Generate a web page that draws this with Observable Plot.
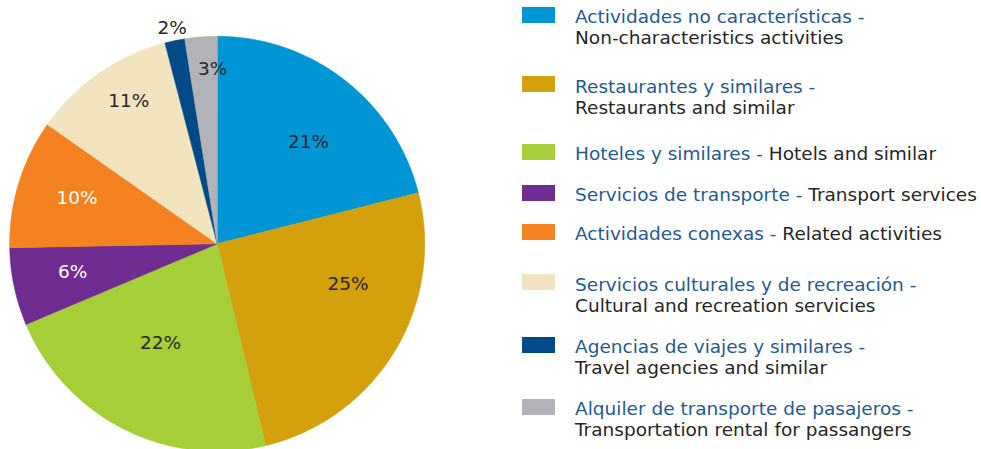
<!DOCTYPE html>
<html><head><meta charset="utf-8">
<script src="https://cdn.jsdelivr.net/npm/d3@7"></script>
<script src="https://cdn.jsdelivr.net/npm/@observablehq/plot@0.6"></script>
<style>
body{margin:0;background:#fff;font-family:"DejaVu Sans",Verdana,sans-serif;}
#wrap{position:relative;width:981px;height:449px;overflow:hidden;background:#fff;}
#chart{position:absolute;left:0;top:0;}
.sw{position:absolute;left:522px;width:33px;height:16px;}
.txt{position:absolute;left:575px;white-space:nowrap;font-size:18.5px;line-height:21px;}
.es{color:#1f5a96}.en{color:#262626}
</style></head><body><div id="wrap"><div id="chart"></div><div id="legend"></div></div>
<script>
// ---- data ----
const categories = [
  "Actividades no características",
  "Restaurantes y similares",
  "Hoteles y similares",
  "Servicios de transporte",
  "Actividades conexas",
  "Servicios culturales y de recreación",
  "Agencias de viajes y similares",
  "Alquiler de transporte de pasajeros"
];
const englishNames = [
  "Non-characteristics activities",
  "Restaurants and similar",
  "Hotels and similar",
  "Transport services",
  "Related activities",
  "Cultural and recreation servicies",
  "Travel agencies and similar",
  "Transportation rental for passangers"
];
const shares = [21.05, 25.2, 22.4, 6.05, 10.05, 11.2, 1.55, 2.5];
const shareLabels = ["21%", "25%", "22%", "6%", "10%", "11%", "2%", "3%"];
const colors = ["#0096d6", "#d4a00c", "#a6ce39", "#6f2c91", "#f58220", "#f3e4c0", "#004b87", "#b1b3b6"];

// ---- layout ----
const R = 207.5, cx = 216.7, cy = 243.3;
const labelRadius = [0.66, 0.66, 0.55, 0.71, 0.71, 0.81, 1.06, 0.84];
const labelShiftDeg = [4, -14, 3, 1, 1, 3, 0, 3];
const whiteLabels = new Set([3, 4]);
const legendBaselines = [23.3, 92.7, 160, 201, 240, 290.7, 353.3, 415];
const legendTwoLines = [true, true, false, false, false, true, true, true];

const total = d3.sum(shares);
let acc = 0;
const slices = categories.map((c, i) => {
  const a0 = acc / total * 2 * Math.PI; acc += shares[i];
  const a1 = acc / total * 2 * Math.PI;
  return {c, i, a0, a1};
});
const pts = [];
for (const s of slices) {
  pts.push({c: s.c, x: 0, y: 0});
  const n = Math.max(2, Math.ceil((s.a1 - s.a0) / (Math.PI / 360)));
  for (let k = 0; k <= n; k++) {
    const a = s.a0 + (s.a1 - s.a0) * k / n;
    pts.push({c: s.c, x: Math.sin(a), y: Math.cos(a)});
  }
}
const labels = slices.map(s => {
  const a = (s.a0 + s.a1) / 2 + labelShiftDeg[s.i] * Math.PI / 180;
  const r = labelRadius[s.i];
  return {x: r * Math.sin(a), y: r * Math.cos(a), text: shareLabels[s.i], white: whiteLabels.has(s.i)};
});

const chart = Plot.plot({
  width: 440, height: 449, margin: 0,
  style: {fontFamily: "DejaVu Sans, Verdana, sans-serif", background: "transparent"},
  x: {domain: [-1, 1], range: [cx - R, cx + R], axis: null},
  y: {domain: [-1, 1], range: [cy + R, cy - R], axis: null},
  color: {domain: categories, range: colors},
  marks: [
    Plot.line(pts, {x: "x", y: "y", z: "c", fill: "c", stroke: "c", strokeWidth: 0.6, curve: "linear-closed"}),
    Plot.text(labels.filter(d => !d.white), {x: "x", y: "y", text: "text", fill: "#262626", fontSize: 18.5}),
    Plot.text(labels.filter(d => d.white), {x: "x", y: "y", text: "text", fill: "#ffffff", fontSize: 18.5})
  ]
});
document.getElementById("chart").appendChild(chart);

const legend = document.getElementById("legend");
categories.forEach((c, i) => {
  const b = legendBaselines[i];
  const sw = document.createElement("div");
  sw.className = "sw"; sw.style.top = (b - 16.5) + "px"; sw.style.background = colors[i];
  legend.appendChild(sw);
  const t = document.createElement("div");
  t.className = "txt"; t.style.top = (b - 17) + "px";
  t.innerHTML = legendTwoLines[i]
    ? `<span class="es">${c} -</span><br><span class="en">${englishNames[i]}</span>`
    : `<span class="es">${c} -</span> <span class="en">${englishNames[i]}</span>`;
  legend.appendChild(t);
});
</script></body></html>
